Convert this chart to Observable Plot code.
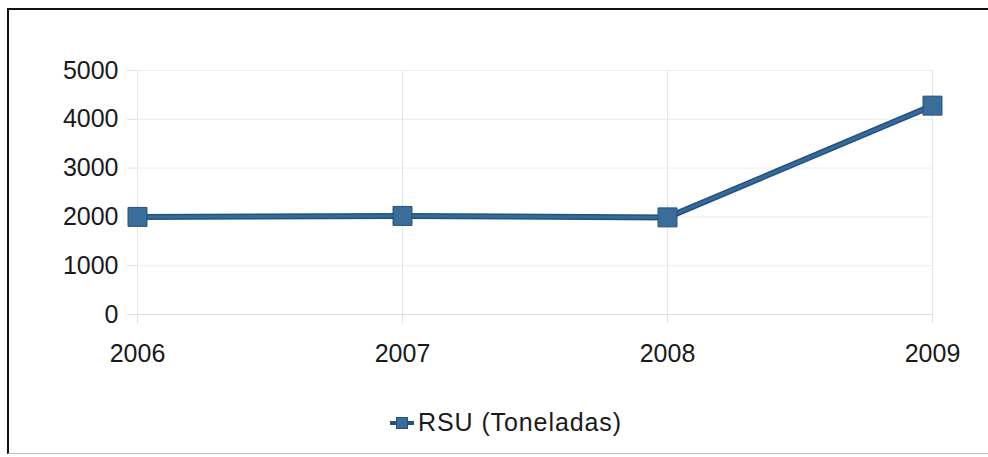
<!DOCTYPE html>
<html>
<head>
<meta charset="utf-8">
<script src="https://cdn.jsdelivr.net/npm/d3@7"></script>
<script src="https://cdn.jsdelivr.net/npm/@observablehq/plot@0.6"></script>
<style>
  html, body { margin: 0; padding: 0; background: #fff; width: 988px; height: 457px; overflow: hidden; }
  body { font-family: "Liberation Sans", Arial, sans-serif; position: relative; }
  #frame { position: absolute; left: 7px; top: 8px; width: 1000px; height: 446px;
           border-left: 2px solid #111; border-top: 2px solid #111; border-bottom: 1px solid #bbb; box-sizing: border-box; }
  #chart { position: absolute; left: 0; top: 0; }
  #legend { position: absolute; left: 0; width: 988px; top: 408px; text-align: center;
            font-size: 25px; color: #1a1a1a; letter-spacing: 0.9px; display: flex; justify-content: center; align-items: center; padding-left: 22px; box-sizing: border-box; }
  #legend svg { margin-right: 2px; }
</style>
</head>
<body>
<div id="frame"></div>
<div id="chart"></div>
<div id="legend"></div>
<script>
const years = ["2006", "2007", "2008", "2009"];
const values = [2000, 2020, 1990, 4280];
const yTicks = [0, 1000, 2000, 3000, 4000, 5000];
const seriesName = "RSU (Toneladas)";

const data = years.map((y, i) => ({year: y, value: values[i]}));
const lineColor = "#356a9b";
const edgeColor = "#24527e";

const chart = Plot.plot({
  width: 988,
  height: 390,
  marginLeft: 137,
  marginRight: 56,
  marginTop: 70,
  marginBottom: 76,
  style: {fontFamily: "'Liberation Sans', Arial, sans-serif", fontSize: "25px", color: "#1a1a1a", background: "transparent"},
  x: {type: "point", domain: years, padding: 0, label: null},
  y: {domain: [0, 5000], label: null},
  marks: [
    Plot.gridX(years, {stroke: "#e6e6e6", strokeOpacity: 1, y1: 0, y2: 5000}),
    Plot.gridY(yTicks, {stroke: "#ececec", strokeOpacity: 1}),
    Plot.ruleY([0], {stroke: "#dcdcdc"}),
    Plot.axisY({ticks: yTicks, tickFormat: d => String(d), tickSize: 10, tickPadding: 9, stroke: "#e0e0e0", fill: "#1a1a1a", label: null}),
    Plot.axisX({tickSize: 9, tickPadding: 21, stroke: "#e0e0e0", fill: "#1a1a1a", label: null}),
    Plot.lineY(data, {x: "year", y: "value", stroke: edgeColor, strokeWidth: 6}),
    Plot.lineY(data, {x: "year", y: "value", stroke: lineColor, strokeWidth: 3}),
    Plot.dot(data, {x: "year", y: "value", symbol: "square", r: 10.7, fill: "#3b6d9b", stroke: edgeColor, strokeWidth: 1})
  ]
});
document.getElementById("chart").appendChild(chart);

const legend = document.getElementById("legend");
legend.innerHTML = `<svg width="28" height="14" viewBox="0 0 28 14">
  <line x1="2" y1="7" x2="26" y2="7" stroke="${edgeColor}" stroke-width="4"/>
  <rect x="8.5" y="1.5" width="11" height="11" fill="#3b6d9b" stroke="${edgeColor}"/>
</svg><span>${seriesName}</span>`;
</script>
</body>
</html>
